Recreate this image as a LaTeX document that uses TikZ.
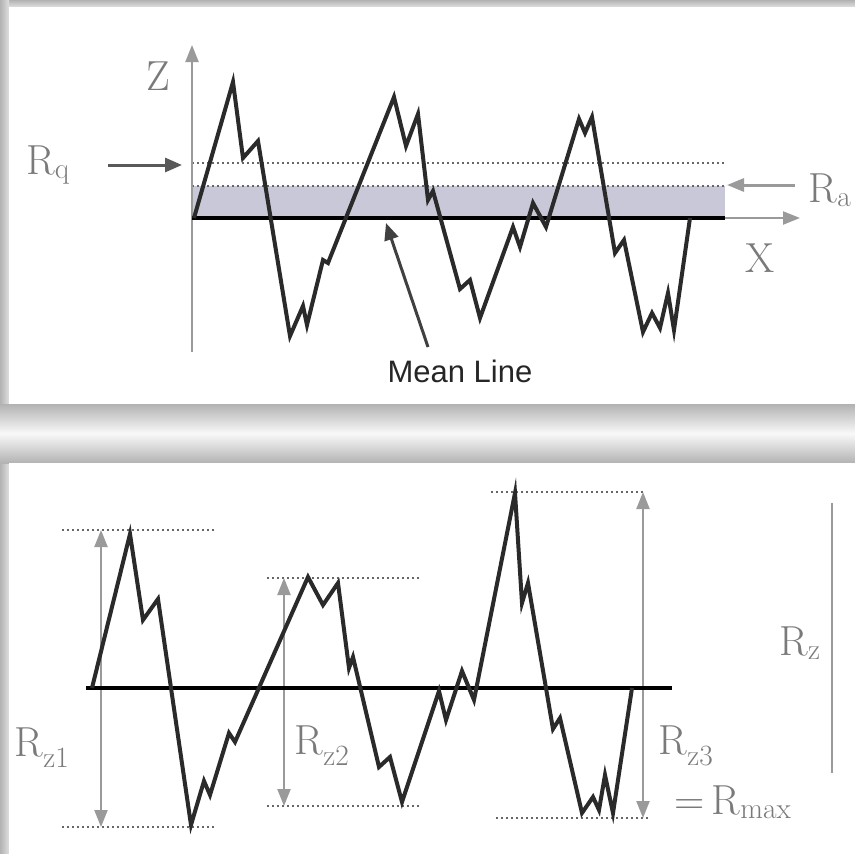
\documentclass[tikz,border=0pt]{standalone}
\usepackage{fontspec}
\usetikzlibrary{arrows.meta}
\newfontfamily\meanfont{Liberation Sans}
\definecolor{bandgray}{HTML}{C9C8D9}
\definecolor{labgray}{HTML}{7A7A7A}
\definecolor{arrgray}{HTML}{9A9A9A}
\definecolor{profcol}{HTML}{2A2A2A}

\begin{document}
\begin{tikzpicture}[x=1pt,y=-1pt,
  prof/.style={draw=profcol,line width=4pt,line join=miter},
  level/.style={draw=black!60,line width=2.6pt,dash pattern=on 2.4pt off 2.6pt},
  garrow/.style={draw=arrgray,line width=2.2pt,-{Triangle[length=17pt,width=13pt]}},
  gboth/.style={draw=arrgray,line width=2.2pt,{Triangle[length=17pt,width=13pt]}-{Triangle[length=17pt,width=13pt]}},
  karrow/.style={draw=black!75,line width=3pt,-{Triangle[length=17pt,width=14pt]}},
  lab/.style={text=labgray,font=\fontsize{42}{44}\selectfont,inner sep=0pt}]
\useasboundingbox (0,0) rectangle (855,854);
% frames and shadows
\fill[gray!30] (0,0) rectangle (855,854);
\shade[top color=gray!60,bottom color=gray!25] (0,0) rectangle (855,7);
\shade[left color=gray!60,right color=gray!25] (0,0) rectangle (9,854);
\shade[top color=gray!60,bottom color=gray!60,middle color=gray!5] (0,404) rectangle (855,463);
\fill[white] (9,7) rectangle (855,404);
\fill[white] (9,463) rectangle (855,854);

% top: Ra / Rq profile
\coordinate (o) at (192,218);
\coordinate (xend) at (725,218);
\coordinate (ztop) at (192,45);
\coordinate (xtop) at (800,218);
\fill[bandgray] (192,186) rectangle (xend);
\draw[level] (192,163) -- (725,163);
\draw[level] (192,186) -- (725,186);
\draw[garrow] (192,352) -- (ztop);
\draw[garrow] (xend) -- (xtop);
\draw[black,line width=3.6pt] (o) -- (xend);
\draw[prof] (194,218) -- (233,82) -- (243,158) -- (258,141) -- (290,336) -- (303,306)
  -- (307,325) -- (323,260) -- (328,263) -- (394,97) -- (406,146) -- (418,114)
  -- (428,200) -- (433,191) -- (460,289) -- (470,280) -- (480,318) -- (513,227)
  -- (520,247) -- (533,203) -- (546,227) -- (579,119) -- (585,133) -- (592,117)
  -- (615,253) -- (624,240) -- (643,332) -- (652,313) -- (660,328) -- (668,293)
  -- (674,330) -- (690,218);
\node[lab] (zlab) at (158,76) {Z};
\node[lab] (xlab) at (760,258) {X};
\node[lab] (rq) at (48,165) {$\mathrm{R_q}$};
\node[lab] (ra) at (830,190) {$\mathrm{R_a}$};
\coordinate (rqtail) at (108,165);
\coordinate (rqtip) at (182,165);
\coordinate (ratail) at (795,185);
\coordinate (ratip) at (727,185);
\draw[karrow,draw=black!65] (rqtail) -- (rqtip);
\draw[garrow,line width=3pt] (ratail) -- (ratip);
\node[font=\meanfont\fontsize{31}{32}\selectfont,text=black!85,inner sep=0pt] (mean) at (460,371) {Mean Line};
\coordinate (mtail) at (428,347);
\coordinate (mtip) at (386,223);
\draw[karrow] (mtail) -- (mtip);

% bottom: Rz / Rmax profile
\draw[level] (62,530) -- (214,530);
\draw[level] (62,827) -- (214,827);
\draw[level] (267,578) -- (420,578);
\draw[level] (267,806) -- (420,806);
\draw[level] (491,492) -- (643,492);
\draw[level] (496,818) -- (649,818);
\coordinate (a1) at (101,530); \coordinate (b1) at (101,827);
\coordinate (a2) at (284,578); \coordinate (b2) at (284,806);
\coordinate (a3) at (643,492); \coordinate (b3) at (643,818);
\draw[gboth] (b1) -- (a1);
\draw[gboth] (b2) -- (a2);
\draw[gboth] (b3) -- (a3);
\coordinate (rztop) at (832,503);
\coordinate (rzbot) at (832,773);
\draw[arrgray,line width=2.2pt] (rztop) -- (rzbot);
\draw[black,line width=3.6pt] (86,688) -- (672,688);
\draw[prof] (92,688) -- (130,534) -- (143,620) -- (158,599) -- (191,825) -- (204,781)
  -- (210,795) -- (229,733) -- (235,742) -- (308,577) -- (323,605) -- (338,583)
  -- (349,668) -- (353,657) -- (379,767) -- (390,757) -- (402,802) -- (439,691)
  -- (446,720) -- (462,671) -- (474,700) -- (515,493) -- (522,603) -- (528,583)
  -- (553,729) -- (560,718) -- (582,813) -- (593,797) -- (599,810) -- (605,775)
  -- (613,813) -- (632,688);
\node[lab] (rz1) at (42,748) {$\mathrm{R_{z1}}$};
\node[lab] (rz2) at (322,746) {$\mathrm{R_{z2}}$};
\node[lab] (rz3) at (686,746) {$\mathrm{R_{z3}}$};
\node[lab] (rmax) at (733,802) {=\,$\mathrm{R_{max}}$};
\node[lab] (rz) at (800,643) {$\mathrm{R_z}$};
\end{tikzpicture}
\end{document}
